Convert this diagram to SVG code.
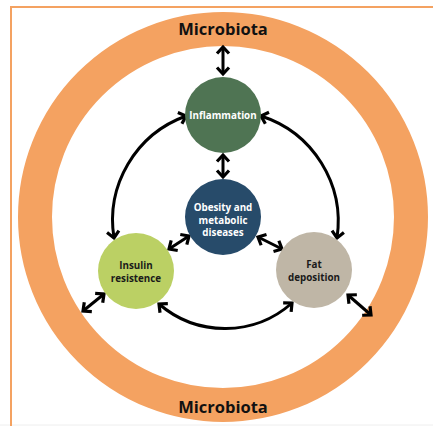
<svg xmlns="http://www.w3.org/2000/svg" width="433" height="426" viewBox="0 0 433 426">
<style>
.lbl{font-family:"Open Sans","Noto Sans",sans-serif;font-weight:bold;font-size:9.8px;text-anchor:middle}
.w{fill:#ffffff}
.d{fill:#1a1a1a}
.mb{font-family:"Open Sans","Noto Sans",sans-serif;font-weight:bold;font-size:16.5px;text-anchor:middle;fill:#111111}
.c{fill:none;stroke:#000000;stroke-width:3}
</style>
<defs>
<marker id="ah" markerUnits="userSpaceOnUse" markerWidth="16" markerHeight="16" viewBox="-8 -8 16 16" refX="0" refY="0" orient="auto-start-reverse">
<path d="M-6.5,-6 L0,0 L-6.5,6" fill="none" stroke="#000000" stroke-width="3.2" stroke-linejoin="miter"/>
</marker>
</defs>
<rect x="0" y="0" width="433" height="426" fill="#ffffff"/>
<line x1="0" y1="425" x2="433" y2="425" stroke="#eeeeee" stroke-width="1"/>
<path d="M11,426 L11,7 L433,7" fill="none" stroke="#F4A261" stroke-width="2"/>
<g id="ring">
<circle cx="223" cy="217" r="188" fill="none" stroke="#F4A261" stroke-width="34"/>
<text class="mb" x="223" y="35">Microbiota</text>
<text class="mb" x="223" y="413">Microbiota</text>
</g>
<g id="connectors">
<line class="c" x1="223" y1="47" x2="223" y2="74" marker-start="url(#ah)" marker-end="url(#ah)"/>
<line class="c" x1="223" y1="155" x2="223" y2="177" marker-start="url(#ah)" marker-end="url(#ah)"/>
<path class="c" d="M186,116 A111,111 0 0 0 114,238" marker-start="url(#ah)" marker-end="url(#ah)"/>
<path class="c" d="M261,116 A111,111 0 0 1 337,238" marker-start="url(#ah)" marker-end="url(#ah)"/>
<path class="c" d="M159,304 A101,101 0 0 0 292,303" marker-start="url(#ah)" marker-end="url(#ah)"/>
<line class="c" x1="189" y1="236" x2="169" y2="249" marker-start="url(#ah)" marker-end="url(#ah)"/>
<line class="c" x1="258" y1="237" x2="282" y2="249" marker-start="url(#ah)" marker-end="url(#ah)"/>
<line class="c" x1="104" y1="294" x2="83" y2="311" marker-start="url(#ah)" marker-end="url(#ah)"/>
<line class="c" x1="348" y1="295" x2="371" y2="315" marker-start="url(#ah)" marker-end="url(#ah)"/>
</g>
<g id="inflammation">
<circle cx="223" cy="115" r="38" fill="#4F7453"/>
<text class="lbl w" x="223" y="118.5">Inflammation</text>
</g>
<g id="obesity">
<circle cx="223" cy="217" r="38" fill="#274B6A"/>
<text class="lbl w" x="223" y="211">Obesity and</text>
<text class="lbl w" x="223" y="223.5">metabolic</text>
<text class="lbl w" x="223" y="236">diseases</text>
</g>
<g id="insulin">
<circle cx="136" cy="271" r="38" fill="#BBD064"/>
<text class="lbl d" x="136" y="269">Insulin</text>
<text class="lbl d" x="136" y="282">resistence</text>
</g>
<g id="fat">
<circle cx="314" cy="270" r="38" fill="#BFB6A6"/>
<text class="lbl d" x="314" y="268">Fat</text>
<text class="lbl d" x="314" y="281">deposition</text>
</g>
</svg>
